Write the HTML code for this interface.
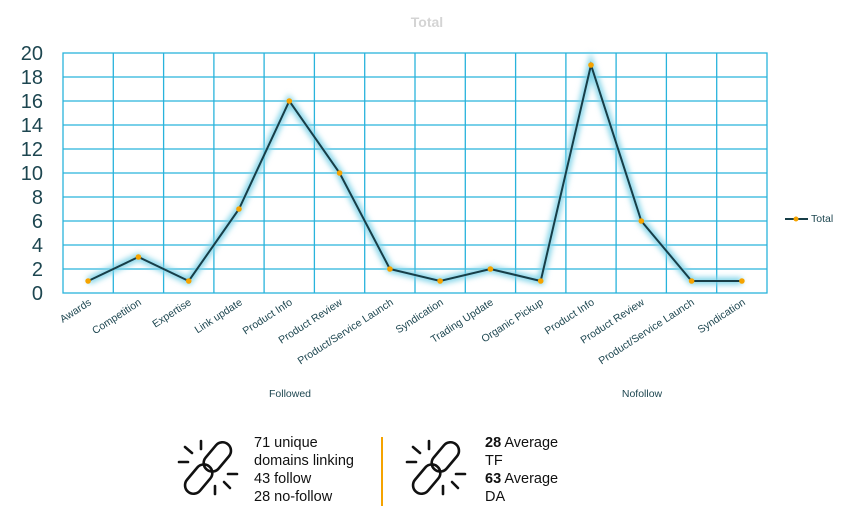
<!DOCTYPE html>
<html><head><meta charset="utf-8"><style>
body{margin:0;background:#fff;width:855px;height:524px;overflow:hidden;font-family:"Liberation Sans",sans-serif}
</style></head><body>
<svg width="855" height="524" xmlns="http://www.w3.org/2000/svg" font-family="Liberation Sans, sans-serif">
<defs>
<filter id="g" x="-10%" y="-10%" width="120%" height="120%"><feGaussianBlur stdDeviation="3"/></filter>
<g id="chain" fill="none" stroke="#111" stroke-width="2.6" stroke-linecap="round">
<rect x="-8.5" y="-31" width="17" height="33" rx="8.5" transform="rotate(40)"/>
<rect x="-8.5" y="-2" width="17" height="33" rx="8.5" transform="rotate(40)"/>
<path d="M-20 -6h-9M-16 -15l-7 -6M-7 -19v-8M20 6h9M16 14l6 6M7 18v8"/>
</g>
</defs>
<text x="427" y="27" text-anchor="middle" font-size="14" font-weight="bold" fill="#d4d4d4">Total</text>
<g stroke="#29b3dc" stroke-width="1.3" fill="none">
<rect x="63" y="53" width="704" height="240"/>
<path d="M63 77H767M63 101H767M63 125H767M63 149H767M63 173H767M63 197H767M63 221H767M63 245H767M63 269H767"/>
<path d="M113.3 53V293M163.6 53V293M213.9 53V293M264.1 53V293M314.4 53V293M364.7 53V293M415 53V293M465.3 53V293M515.6 53V293M565.9 53V293M616.1 53V293M666.4 53V293M716.7 53V293"/>
</g>
<g font-size="20" fill="#1d4650" text-anchor="end">
<text x="43" y="60">20</text><text x="43" y="84">18</text><text x="43" y="108">16</text><text x="43" y="132">14</text><text x="43" y="156">12</text><text x="43" y="180">10</text><text x="43" y="204">8</text><text x="43" y="228">6</text><text x="43" y="252">4</text><text x="43" y="276">2</text><text x="43" y="300">0</text>
</g>
<polyline filter="url(#g)" fill="none" stroke="#7fd3e8" stroke-width="7" points="88.1,281 138.4,257 188.7,281 239,209 289.3,101 339.6,173 389.9,269 440.1,281 490.4,269 540.7,281 591,65 641.3,221 691.6,281 741.9,281"/>
<polyline fill="none" stroke="#173e48" stroke-width="2" points="88.1,281 138.4,257 188.7,281 239,209 289.3,101 339.6,173 389.9,269 440.1,281 490.4,269 540.7,281 591,65 641.3,221 691.6,281 741.9,281"/>
<g fill="#f5a300">
<circle cx="88.1" cy="281" r="2.8"/><circle cx="138.4" cy="257" r="2.8"/><circle cx="188.7" cy="281" r="2.8"/><circle cx="239" cy="209" r="2.8"/><circle cx="289.3" cy="101" r="2.8"/><circle cx="339.6" cy="173" r="2.8"/><circle cx="389.9" cy="269" r="2.8"/><circle cx="440.1" cy="281" r="2.8"/><circle cx="490.4" cy="269" r="2.8"/><circle cx="540.7" cy="281" r="2.8"/><circle cx="591" cy="65" r="2.8"/><circle cx="641.3" cy="221" r="2.8"/><circle cx="691.6" cy="281" r="2.8"/><circle cx="741.9" cy="281" r="2.8"/>
</g>
<g font-size="10.5" fill="#1d4650" text-anchor="end">
<text transform="translate(92,304) rotate(-33)">Awards</text>
<text transform="translate(142,304) rotate(-33)">Competition</text>
<text transform="translate(192,304) rotate(-33)">Expertise</text>
<text transform="translate(243,304) rotate(-33)">Link update</text>
<text transform="translate(293,304) rotate(-33)">Product Info</text>
<text transform="translate(343,304) rotate(-33)">Product Review</text>
<text transform="translate(394,304) rotate(-33)">Product/Service Launch</text>
<text transform="translate(444,304) rotate(-33)">Syndication</text>
<text transform="translate(494,304) rotate(-33)">Trading Update</text>
<text transform="translate(544,304) rotate(-33)">Organic Pickup</text>
<text transform="translate(595,304) rotate(-33)">Product Info</text>
<text transform="translate(645,304) rotate(-33)">Product Review</text>
<text transform="translate(695,304) rotate(-33)">Product/Service Launch</text>
<text transform="translate(746,304) rotate(-33)">Syndication</text>
</g>
<text x="290" y="397" font-size="10.5" fill="#1d4650" text-anchor="middle">Followed</text>
<text x="642" y="397" font-size="10.5" fill="#1d4650" text-anchor="middle">Nofollow</text>
<line x1="785" y1="219" x2="808" y2="219" stroke="#173e48" stroke-width="2"/>
<circle cx="796" cy="219" r="2.5" fill="#f5a300"/>
<text x="811" y="222" font-size="10.5" fill="#1d4650">Total</text>
<use href="#chain" transform="translate(208,468)"/>
<use href="#chain" transform="translate(436,468)"/>
<g font-size="14.5" fill="#111">
<text x="254" y="447">71 unique</text>
<text x="254" y="465">domains linking</text>
<text x="254" y="483">43 follow</text>
<text x="254" y="501">28 no-follow</text>
<text x="485" y="447"><tspan font-weight="bold">28</tspan> Average</text>
<text x="485" y="465">TF</text>
<text x="485" y="483"><tspan font-weight="bold">63</tspan> Average</text>
<text x="485" y="501">DA</text>
</g>
<line x1="382" y1="437" x2="382" y2="506" stroke="#f5a300" stroke-width="2"/>
</svg>
</body></html>
